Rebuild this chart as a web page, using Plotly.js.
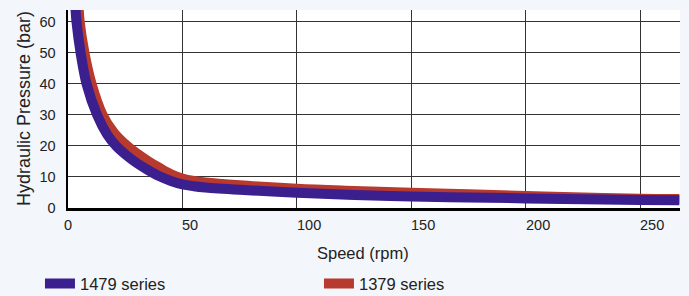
<!DOCTYPE html>
<html><head><meta charset="utf-8">
<script src="https://cdn.plot.ly/plotly-3.0.1.min.js"></script>
<style>html,body{margin:0;padding:0;background:#f3f6fb;} #chart{width:689px;height:296px;}</style>
</head><body><div id="chart"></div>
<script>
const seriesNames = ['1479 series', '1379 series'];
const speed1479 = [2.8, 3.2, 3.7, 5.5, 8.1, 12.7, 17, 21, 25.5, 30, 35, 40, 45, 50, 55, 60, 75, 100, 125, 150, 175, 200, 225, 250, 267];
const pressure1479 = [72, 65, 60, 50, 40, 30, 23.8, 20, 17, 14.5, 12.2, 10.2, 8.7, 7.6, 7.0, 6.6, 5.85, 4.9, 4.2, 3.7, 3.4, 3.1, 2.8, 2.6, 2.5];
const speed1379 = [4.0, 4.6, 5.1, 7.2, 10.3, 15.1, 20, 25.5, 30, 35, 40, 45, 50, 55, 60, 75, 100, 125, 150, 175, 200, 225, 250, 267];
const pressure1379 = [72, 65, 60, 50, 40, 30, 24.3, 20.2, 17.6, 15.1, 12.9, 10.9, 9.5, 8.7, 8.2, 7.3, 6.2, 5.5, 4.9, 4.4, 3.9, 3.4, 3.0, 2.9];
const xTickValues = [0, 50, 100, 150, 200, 250];
const yTickValues = [0, 10, 20, 30, 40, 50, 60];
const xAxisTitle = 'Speed (rpm)';
const yAxisTitle = 'Hydraulic Pressure (bar)';

const FONT = "'Liberation Sans', Arial, sans-serif";
const PURPLE = '#3b1f8e';
const RED = '#b8392d';

const traces = [
  {x: speed1379, y: pressure1379, name: seriesNames[1], type: 'scatter', mode: 'lines',
   line: {color: RED, width: 10, shape: 'spline', smoothing: 1}, legendrank: 2},
  {x: speed1479, y: pressure1479, name: seriesNames[0], type: 'scatter', mode: 'lines',
   line: {color: PURPLE, width: 10, shape: 'spline', smoothing: 1}, legendrank: 1}
];

const annotations = xTickValues.map(v => ({
  x: v, y: 0, xref: 'x', yref: 'y', text: String(v), showarrow: false,
  xanchor: v === 0 ? 'center' : 'left', yanchor: 'top', yshift: -7, xshift: v === 0 ? 0 : -2,
  font: {family: FONT, size: 14.5, color: '#222'}
}));
annotations.push({
  x: (363 - 68) / 612, y: -0.229, xref: 'paper', yref: 'paper', text: xAxisTitle, showarrow: false,
  xanchor: 'center', yanchor: 'middle', font: {family: FONT, size: 16.5, color: '#222'}
});
annotations.push({
  x: (24 - 68) / 612, y: 0.5, xref: 'paper', yref: 'paper', text: yAxisTitle, showarrow: false,
  textangle: -90, xanchor: 'center', yanchor: 'middle', font: {family: FONT, size: 18, color: '#222'}
});

const layout = {
  width: 689, height: 296,
  paper_bgcolor: '#f3f6fb', plot_bgcolor: '#ffffff',
  margin: {l: 68, r: 9, t: 10, b: 88},
  font: {family: FONT, color: '#222'},
  xaxis: {
    range: [0, 267.3], tickvals: xTickValues, showticklabels: false,
    showgrid: true, gridcolor: '#333', gridwidth: 1, zeroline: false,
    showline: true, linecolor: '#000', linewidth: 2.5, ticks: '', fixedrange: true
  },
  yaxis: {
    range: [0, 63.8], tickvals: yTickValues, ticktext: yTickValues.map(String),
    showgrid: true, gridcolor: '#333', gridwidth: 1, zeroline: false,
    showline: true, linecolor: '#000', linewidth: 2.5,
    ticks: 'outside', ticklen: 7, tickcolor: 'rgba(0,0,0,0)',
    tickfont: {family: FONT, size: 14.5, color: '#222'}, fixedrange: true
  },
  showlegend: true,
  legend: {
    orientation: 'h', xref: 'container', yref: 'container', x: 0.058, y: 0.1,
    xanchor: 'left', yanchor: 'top', entrywidth: 234, entrywidthmode: 'pixels',
    font: {family: FONT, size: 16.5, color: '#222'}, bgcolor: 'rgba(0,0,0,0)'
  },
  annotations: annotations
};

Plotly.newPlot('chart', traces, layout, {displayModeBar: false, staticPlot: true});
</script>
</body></html>
